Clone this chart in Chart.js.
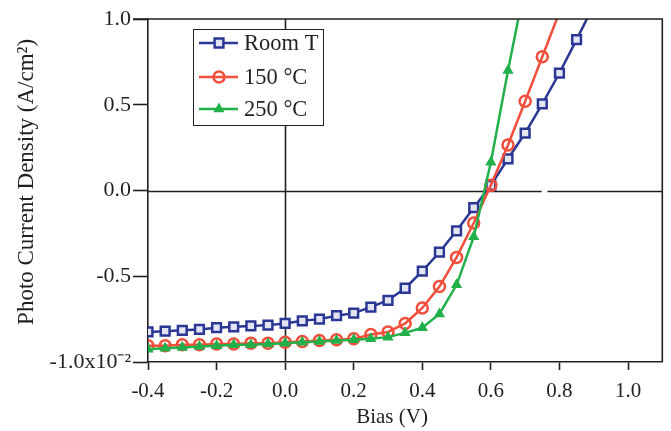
<!DOCTYPE html>
<html>
<head>
<meta charset="utf-8">
<script src="https://cdn.jsdelivr.net/npm/chart.js@4.4.1/dist/chart.umd.min.js"></script>
<style>
    html, body { margin: 0; padding: 0; background: #ffffff; }
    #wrap { width: 671px; height: 431px; }
</style>
</head>
<body>
<div id="wrap"><canvas id="chart" width="671" height="431"></canvas></div>
<script>
// bias points (V), shared by all three traces
var bias = [-0.4, -0.35, -0.3, -0.25, -0.2, -0.15, -0.1, -0.05, 0, 0.05, 0.1, 0.15, 0.2,
    0.25, 0.3, 0.35, 0.4, 0.45, 0.5, 0.55, 0.6, 0.65, 0.7, 0.75, 0.8, 0.85, 0.9];
// photo current density, x10^-2 A/cm2
var roomT = [-0.825, -0.82, -0.815, -0.81, -0.80, -0.795, -0.79, -0.785, -0.775, -0.76, -0.75, -0.73, -0.715,
    -0.68, -0.64, -0.57, -0.47, -0.36, -0.235, -0.10, 0.03, 0.185, 0.335, 0.505, 0.685, 0.88, 1.08];
var temp150 = [-0.905, -0.905, -0.90, -0.90, -0.895, -0.895, -0.89, -0.89, -0.885, -0.88, -0.875, -0.87, -0.865,
    -0.84, -0.825, -0.775, -0.685, -0.56, -0.39, -0.19, 0.03, 0.265, 0.52, 0.78, 1.04];
var temp250 = [-0.925, -0.92, -0.915, -0.91, -0.905, -0.90, -0.90, -0.895, -0.89, -0.885, -0.88, -0.875, -0.87,
    -0.865, -0.855, -0.83, -0.80, -0.72, -0.55, -0.27, 0.165, 0.70, 1.2];
var seriesNames = ['Room T', '150 \u00b0C', '250 \u00b0C'];
var xTicks = [-0.4, -0.2, 0.0, 0.2, 0.4, 0.6, 0.8, 1.0];
var yTicks = [-1.0, -0.5, 0.0, 0.5, 1.0];
var zeroLineGap = [0.748, 0.765]; // small break in the y=0 line

var ink = '#231f20';
var serif = "'Liberation Serif', 'Times New Roman', serif";

function toPoints(ys) {
    return ys.map(function (y, i) { return {x: bias[i], y: y}; });
}

var frameLines = {
    id: 'frameLines',
    beforeDatasetsDraw: function (chart) {
        var ctx = chart.ctx, a = chart.chartArea;
        var xs = chart.scales.x, ys = chart.scales.y;
        var x0 = Math.round(xs.getPixelForValue(0)) + 0.5;
        var y0 = Math.round(ys.getPixelForValue(0)) + 0.5;
        ctx.save();
        ctx.strokeStyle = ink;
        ctx.lineWidth = 1.6;
        ctx.beginPath();
        ctx.moveTo(x0, a.top);
        ctx.lineTo(x0, a.bottom);
        ctx.moveTo(a.left, y0);
        ctx.lineTo(xs.getPixelForValue(zeroLineGap[0]), y0);
        ctx.moveTo(xs.getPixelForValue(zeroLineGap[1]), y0);
        ctx.lineTo(a.right, y0);
        ctx.stroke();
        ctx.restore();
    },
    afterDraw: function (chart) {
        var ctx = chart.ctx, a = chart.chartArea;
        ctx.save();
        ctx.strokeStyle = ink;
        ctx.lineWidth = 1.6;
        ctx.beginPath();
        ctx.moveTo(a.left - 15, a.top);
        ctx.lineTo(a.right, a.top);
        ctx.lineTo(a.right, a.bottom);
        ctx.stroke();
        ctx.restore();
    }
};

// boxed legend with line + marker samples, upper left
var boxLegend = {
    id: 'boxLegend',
    afterDraw: function (chart) {
        var ctx = chart.ctx;
        var box = {x: 193.5, y: 29.5, w: 130, h: 96};
        var rows = [43, 77, 109];
        ctx.save();
        ctx.fillStyle = '#ffffff';
        ctx.fillRect(box.x, box.y, box.w, box.h);
        ctx.strokeStyle = ink;
        ctx.lineWidth = 1;
        ctx.strokeRect(box.x, box.y, box.w, box.h);
        chart.data.datasets.forEach(function (ds, i) {
            var y = rows[i];
            ctx.strokeStyle = ds.borderColor;
            ctx.lineWidth = ds.borderWidth;
            ctx.beginPath();
            ctx.moveTo(199, y);
            ctx.lineTo(238, y);
            ctx.stroke();
            ctx.fillStyle = ds.pointBackgroundColor;
            ctx.strokeStyle = ds.borderColor;
            ctx.lineWidth = ds.pointBorderWidth;
            Chart.helpers.drawPoint(ctx, {
                pointStyle: ds.pointStyle,
                radius: ds.pointRadius,
                rotation: 0,
                borderWidth: ds.pointBorderWidth
            }, 219, y);
            ctx.fillStyle = ink;
            ctx.font = '22.5px ' + serif;
            ctx.textBaseline = 'middle';
            ctx.fillText(ds.label, 244, y + 1);
        });
        ctx.restore();
    }
};

var blue = '#2b3795';
var red = '#f24e3b';
var green = '#22b04b';

new Chart(document.getElementById('chart'), {
    type: 'line',
    data: {
        datasets: [{
            label: seriesNames[0],
            data: toPoints(roomT),
            borderColor: blue,
            borderWidth: 2.5,
            pointStyle: 'rect',
            pointRadius: 6.2,
            pointBorderWidth: 2.5,
            pointBackgroundColor: '#e4e5f2',
            pointBorderColor: blue,
            order: 2
        }, {
            label: seriesNames[1],
            data: toPoints(temp150),
            borderColor: red,
            borderWidth: 2.5,
            pointStyle: 'circle',
            pointRadius: 5.5,
            pointBorderWidth: 2.5,
            pointBackgroundColor: 'rgba(0,0,0,0)',
            pointBorderColor: red,
            order: 1
        }, {
            label: seriesNames[2],
            data: toPoints(temp250),
            borderColor: green,
            borderWidth: 2.5,
            pointStyle: 'triangle',
            pointRadius: 5,
            pointBorderWidth: 1.5,
            pointBackgroundColor: green,
            pointBorderColor: green,
            order: 0
        }]
    },
    options: {
        responsive: false,
        animation: false,
        devicePixelRatio: 1,
        layout: {padding: {top: 19, right: 5, left: 0, bottom: 0}},
        elements: {line: {tension: 0}},
        plugins: {
            legend: {display: false},
            tooltip: {enabled: false}
        },
        scales: {
            x: {
                type: 'linear',
                min: -0.4,
                max: 1.1,
                afterBuildTicks: function (axis) {
                    axis.ticks = xTicks.map(function (v) { return {value: v}; });
                },
                afterFit: function (axis) { axis.height = 69; },
                ticks: {
                    color: ink,
                    font: {family: serif, size: 21},
                    padding: 9,
                    maxRotation: 0,
                    callback: function (v) { return v.toFixed(1); }
                },
                grid: {
                    drawOnChartArea: false,
                    tickLength: 8,
                    tickWidth: 1.6,
                    tickColor: ink
                },
                border: {display: true, color: ink, width: 1.6},
                title: {
                    display: true,
                    text: 'Bias (V)     ',
                    color: ink,
                    font: {family: serif, size: 21},
                    padding: {top: 2, bottom: 1}
                }
            },
            y: {
                type: 'linear',
                min: -1.0,
                max: 1.0,
                afterBuildTicks: function (axis) {
                    axis.ticks = yTicks.map(function (v) { return {value: v}; });
                },
                afterFit: function (axis) { axis.width = 148; },
                ticks: {
                    color: ink,
                    font: {family: serif, size: 22},
                    padding: 2,
                    callback: function (v) {
                        if (v === -1) return '-1.0x10\u207b\u00b2';
                        return v.toFixed(1);
                    }
                },
                grid: {
                    drawOnChartArea: false,
                    tickLength: 15,
                    tickWidth: 1.6,
                    tickColor: ink
                },
                border: {display: true, color: ink, width: 1.6},
                title: {
                    display: true,
                    text: '   Photo Current Density (A/cm\u00b2)',
                    color: ink,
                    font: {family: serif, size: 23},
                    padding: {top: 13, bottom: 0}
                }
            }
        }
    },
    plugins: [frameLines, boxLegend]
});
</script>
</body>
</html>
